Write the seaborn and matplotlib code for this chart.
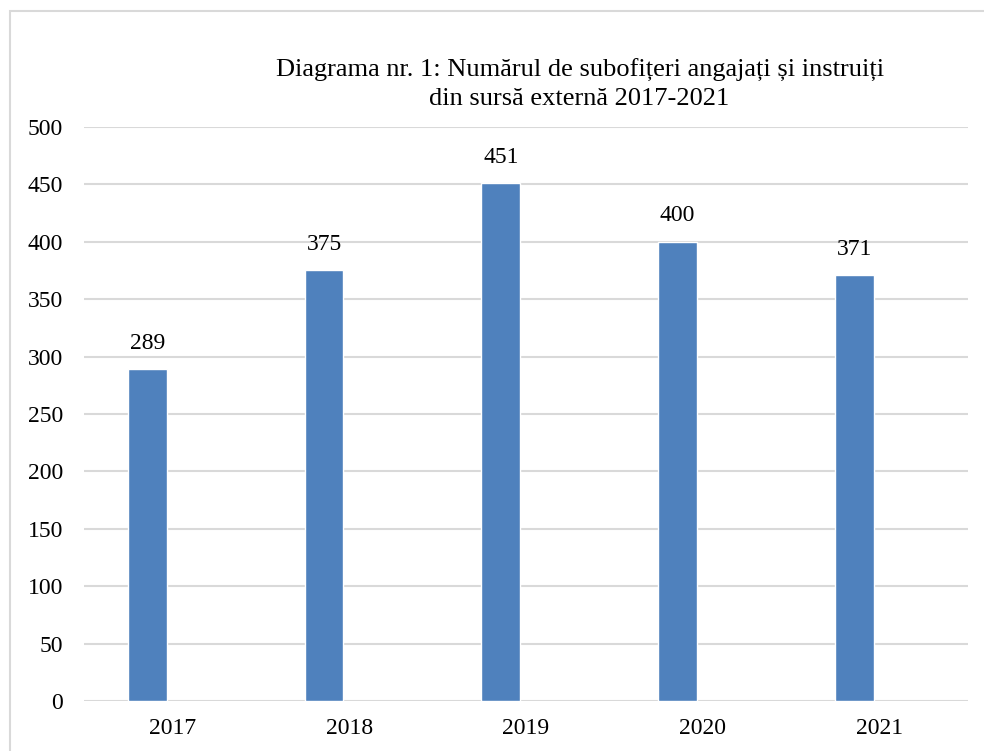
import pandas as pd
import matplotlib
matplotlib.use("Agg")
import matplotlib.pyplot as plt
import seaborn as sns
from matplotlib.patches import Rectangle

years = ["2017", "2018", "2019", "2020", "2021"]
values = [289, 375, 451, 400, 371]
series_name = "Subofițeri"
title_lines = ["Diagrama nr. 1: Numărul de subofițeri angajați și instruiți",
               "din sursă externă 2017-2021"]

df = pd.DataFrame({"an": years, "numar": values, "serie": series_name})

sns.set_theme(style="white")
plt.rcParams['font.family'] = ['Liberation Serif', 'DejaVu Serif']
plt.rcParams['text.color'] = 'black'
plt.rcParams['xtick.color'] = 'black'
plt.rcParams['ytick.color'] = 'black'

fig = plt.figure(figsize=(9.84, 7.51), dpi=100)
ax = fig.add_axes([0.0854, 0.0666, 0.8983, 0.7644])

# a second, empty series level keeps the bars on the left half of each slot, as in Excel
sns.barplot(data=df, x="an", y="numar", hue="serie", hue_order=[series_name, " "],
            palette=["#4F81BD", "#C0504D"], width=0.57, gap=0.228, dodge=True,
            legend=False, ax=ax, saturation=1, errorbar=None)

ax.bar_label(ax.containers[0], labels=[str(v) for v in values], padding=11,
             fontsize=17, color='black')

ax.set_ylim(0, 500)
ax.set_yticks(range(0, 501, 50))
ax.set_xlim(-0.5, 4.5)
ax.yaxis.grid(True, color="#d9d9d9", linewidth=1.5)
ax.set_axisbelow(True)
for s in ax.spines.values():
    s.set_visible(False)
ax.tick_params(axis='both', length=0, labelsize=17, labelcolor='black')
ax.tick_params(axis='y', pad=15)
ax.tick_params(axis='x', pad=12)
ax.set_xlabel("")
ax.set_ylabel("")

fig.text(0.589, 0.906, title_lines[0], ha='center', va='center', fontsize=19)
fig.text(0.589, 0.868, title_lines[1], ha='center', va='center', fontsize=19)

fig.patches.append(Rectangle((0.0102, -0.05), 1.1, 1.0354, transform=fig.transFigure,
                             fill=False, edgecolor="#d9d9d9", linewidth=1.5))

fig.savefig("out.png", dpi=100)
